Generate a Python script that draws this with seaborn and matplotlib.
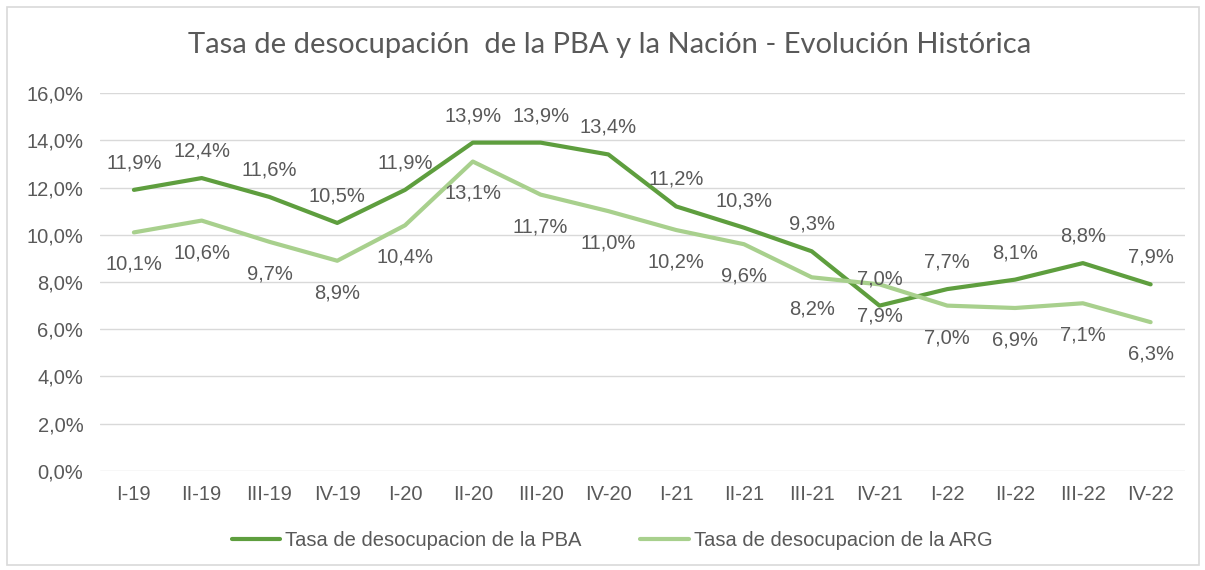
import pandas as pd
import seaborn as sns
import matplotlib.pyplot as plt
from matplotlib.patches import Rectangle

# datos
trimestres = ['I-19', 'II-19', 'III-19', 'IV-19', 'I-20', 'II-20', 'III-20', 'IV-20',
              'I-21', 'II-21', 'III-21', 'IV-21', 'I-22', 'II-22', 'III-22', 'IV-22']
pba = [11.9, 12.4, 11.6, 10.5, 11.9, 13.9, 13.9, 13.4, 11.2, 10.3, 9.3, 7.0, 7.7, 8.1, 8.8, 7.9]
arg = [10.1, 10.6, 9.7, 8.9, 10.4, 13.1, 11.7, 11.0, 10.2, 9.6, 8.2, 7.9, 7.0, 6.9, 7.1, 6.3]
serie_pba = 'Tasa de desocupacion de la PBA'
serie_arg = 'Tasa de desocupacion de la ARG'

df = pd.concat([
    pd.DataFrame({'trimestre': trimestres, 'valor': pba, 'serie': serie_pba}),
    pd.DataFrame({'trimestre': trimestres, 'valor': arg, 'serie': serie_arg}),
])

sns.set_style('white')
plt.rcParams['font.family'] = ['Liberation Sans', 'DejaVu Sans']
gris = '#595959'
fs = 14.5
colores = {serie_pba: '#5E9E3E', serie_arg: '#A8D08D'}

fig = plt.figure(figsize=(12.05, 5.7), dpi=100)
ax = fig.add_axes([0.083, 0.1737, 0.9, 0.6631])

sns.lineplot(data=df, x='trimestre', y='valor', hue='serie', palette=colores,
             sort=False, linewidth=3, ax=ax)

# etiquetas de datos
for i, v in enumerate(pba):
    ax.annotate(f'{v:.1f}%'.replace('.', ','), (i, v), xytext=(0, 19.5),
                textcoords='offset points', ha='center', va='center',
                fontsize=fs, color=gris)
for i, v in enumerate(arg):
    ax.annotate(f'{v:.1f}%'.replace('.', ','), (i, v), xytext=(0, -23),
                textcoords='offset points', ha='center', va='center',
                fontsize=fs, color=gris)

ax.set_xlim(-0.5, len(trimestres) - 0.5)
ax.set_ylim(0, 16)
ax.set_yticks(range(0, 17, 2))
ax.set_yticklabels([f'{y:.1f}%'.replace('.', ',') for y in range(0, 17, 2)])
ax.grid(axis='y', color='#d9d9d9', linewidth=1)
ax.set_axisbelow(True)
for s in ax.spines.values():
    s.set_visible(False)
ax.tick_params(axis='both', length=0, labelsize=fs, labelcolor=gris)
ax.tick_params(axis='x', pad=10)
ax.tick_params(axis='y', pad=12)
ax.set_xlabel('')
ax.set_ylabel('')

ax.legend(loc='center', bbox_to_anchor=(0.508, 0.051), bbox_transform=fig.transFigure,
          ncol=2, frameon=False, fontsize=fs, labelcolor=gris, handlelength=2.4,
          handletextpad=0.25, columnspacing=2.9)

fig.text(0.506, 0.921, 'Tasa de desocupación  de la PBA y la Nación - Evolución Histórica',
         ha='center', va='center', fontsize=21, color=gris,
         family=['Lato', 'DejaVu Sans'])

fig.patches.append(Rectangle((0.006, 0.008), 0.989, 0.98, transform=fig.transFigure,
                             fill=False, edgecolor='#d9d9d9', linewidth=1.2))

fig.savefig('out.png', dpi=100)
